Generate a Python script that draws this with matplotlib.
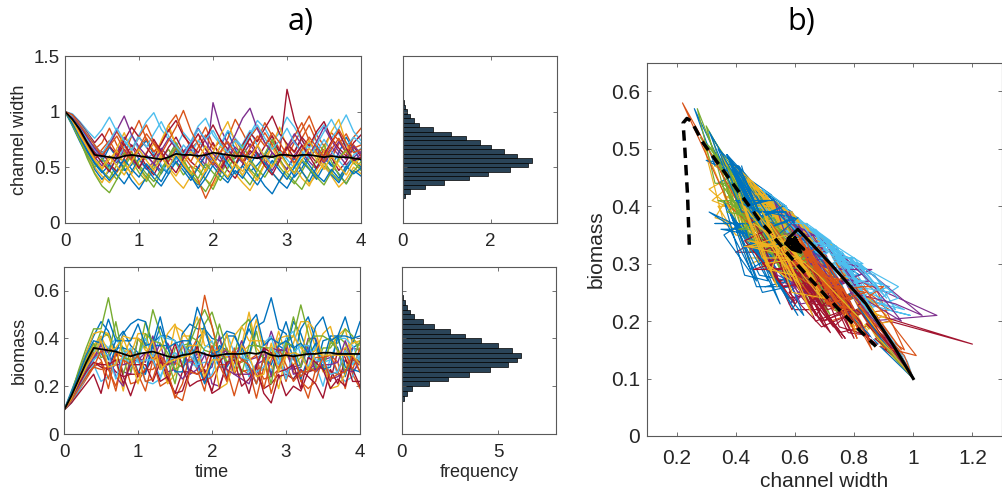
import numpy as np
import matplotlib.pyplot as plt

plt.rcParams['font.family'] = ['Liberation Sans', 'DejaVu Sans']

time = np.linspace(0, 4, 41)

# channel width of the individual runs (sampled every 0.1 time units)
width_runs = [
    [1.00, 0.93, 0.82, 0.71, 0.62, 0.55, 0.68, 0.59, 0.47, 0.52, 0.66, 0.74, 0.61, 0.50, 0.44, 0.58, 0.63, 0.71, 0.57, 0.49, 0.55,
     0.69, 0.82, 0.66, 0.54, 0.46, 0.52, 0.60, 0.73, 0.64, 0.53, 0.41, 0.49, 0.62, 0.70, 0.58, 0.51, 0.63, 0.77, 0.65, 0.56],
    [1.00, 0.96, 0.88, 0.77, 0.66, 0.72, 0.85, 0.70, 0.61, 0.78, 0.92, 0.75, 0.64, 0.71, 0.88, 0.97, 0.80, 0.67, 0.73, 0.86, 0.70,
     0.62, 0.76, 0.93, 0.81, 0.68, 0.74, 0.90, 0.78, 0.66, 0.59, 0.72, 0.84, 0.96, 0.79, 0.69, 0.81, 0.74, 0.63, 0.77, 0.85],
    [1.00, 0.89, 0.76, 0.63, 0.50, 0.42, 0.36, 0.45, 0.55, 0.43, 0.34, 0.40, 0.52, 0.61, 0.48, 0.38, 0.31, 0.42, 0.50, 0.39, 0.33,
     0.46, 0.57, 0.44, 0.36, 0.29, 0.41, 0.53, 0.45, 0.37, 0.48, 0.60, 0.47, 0.35, 0.43, 0.54, 0.42, 0.32, 0.39, 0.50, 0.44],
    [1.00, 0.92, 0.85, 0.74, 0.64, 0.58, 0.51, 0.63, 0.77, 0.69, 0.57, 0.48, 0.55, 0.67, 0.59, 0.53, 0.64, 0.72, 0.60, 0.52, 1.08,
     0.85, 0.71, 0.60, 0.54, 0.62, 0.69, 0.56, 0.47, 0.58, 0.66, 0.74, 0.63, 0.55, 0.48, 0.57, 0.68, 0.61, 0.52, 0.59, 0.64],
    [1.00, 0.90, 0.79, 0.66, 0.55, 0.47, 0.40, 0.52, 0.63, 0.56, 0.45, 0.37, 0.49, 0.58, 0.66, 0.54, 0.43, 0.51, 0.47, 0.39, 0.30,
     0.44, 0.55, 0.64, 0.57, 0.48, 0.41, 0.53, 0.61, 0.50, 0.42, 0.35, 0.46, 0.58, 0.67, 0.55, 0.45, 0.38, 0.50, 0.59, 0.48],
    [1.00, 0.98, 0.91, 0.83, 0.76, 0.84, 0.95, 0.82, 0.73, 0.66, 0.79, 0.91, 0.99, 0.84, 0.75, 0.68, 0.81, 0.73, 0.87, 0.94, 0.79,
     0.70, 0.83, 0.76, 0.68, 0.80, 0.92, 0.85, 0.73, 0.81, 0.95, 0.86, 0.74, 0.67, 0.79, 0.88, 0.76, 0.85, 0.97, 0.82, 0.74],
    [1.00, 0.94, 0.80, 0.68, 0.57, 0.64, 0.53, 0.46, 0.58, 0.70, 0.62, 0.51, 0.43, 0.56, 0.68, 0.77, 0.64, 0.55, 0.49, 0.61, 0.72,
     0.59, 0.47, 0.40, 0.52, 0.65, 0.58, 0.69, 0.78, 0.63, 1.20, 0.92, 0.75, 0.62, 0.54, 0.66, 0.59, 0.47, 0.55, 0.68, 0.60],
    [1.00, 0.87, 0.73, 0.60, 0.48, 0.39, 0.47, 0.58, 0.49, 0.38, 0.30, 0.41, 0.53, 0.44, 0.56, 0.65, 0.52, 0.41, 0.34, 0.45, 0.57,
     0.48, 0.39, 0.51, 0.62, 0.55, 0.43, 0.33, 0.26, 0.38, 0.49, 0.58, 0.46, 0.37, 0.50, 0.61, 0.52, 0.44, 0.35, 0.47, 0.42],
    [1.00, 0.95, 0.84, 0.73, 0.69, 0.60, 0.71, 0.82, 0.70, 0.58, 0.67, 0.76, 0.63, 0.72, 0.84, 0.71, 0.62, 0.55, 0.68, 0.79, 0.66,
     0.74, 0.61, 0.53, 0.65, 0.77, 0.86, 0.72, 0.63, 0.57, 0.70, 0.63, 0.76, 0.88, 0.73, 0.64, 0.58, 0.71, 0.80, 0.67, 0.70],
    [1.00, 0.91, 0.78, 0.62, 0.45, 0.36, 0.50, 0.67, 0.81, 0.64, 0.49, 0.39, 0.55, 0.74, 0.88, 0.69, 0.52, 0.42, 0.35, 0.48, 0.63,
     0.79, 0.91, 0.72, 0.57, 0.46, 0.38, 0.53, 0.70, 0.86, 0.68, 0.51, 0.40, 0.33, 0.47, 0.65, 0.82, 0.93, 0.71, 0.56, 0.50],
    [1.00, 0.93, 0.83, 0.70, 0.59, 0.51, 0.60, 0.54, 0.66, 0.57, 0.49, 0.61, 0.53, 0.47, 0.60, 0.71, 0.58, 0.66, 0.56, 0.63, 0.54,
     0.46, 0.59, 0.68, 0.61, 0.71, 0.60, 0.52, 0.63, 0.56, 0.48, 0.61, 0.69, 0.59, 0.66, 0.54, 0.62, 0.73, 0.63, 0.55, 0.62],
    [1.00, 0.88, 0.75, 0.58, 0.44, 0.33, 0.27, 0.39, 0.52, 0.64, 0.50, 0.41, 0.32, 0.45, 0.59, 0.72, 0.57, 0.44, 0.36, 0.28, 0.40,
     0.54, 0.67, 0.53, 0.42, 0.34, 0.47, 0.62, 0.75, 0.58, 0.45, 0.37, 0.30, 0.43, 0.57, 0.70, 0.55, 0.43, 0.35, 0.46, 0.55],
    [1.00, 0.94, 0.86, 0.75, 0.66, 0.58, 0.49, 0.56, 0.68, 0.79, 0.65, 0.57, 0.63, 0.52, 0.45, 0.57, 0.70, 0.62, 0.74, 0.66, 0.55,
     0.61, 0.50, 0.58, 0.71, 0.83, 0.69, 0.60, 0.53, 0.64, 0.57, 0.49, 0.60, 0.72, 0.63, 0.75, 0.64, 0.56, 0.48, 0.61, 0.67],
    [1.00, 0.97, 0.90, 0.81, 0.72, 0.80, 0.69, 0.61, 0.74, 0.86, 0.77, 0.68, 0.59, 0.71, 0.83, 0.92, 0.78, 0.70, 0.63, 0.76, 0.88,
     0.75, 0.66, 0.58, 0.70, 0.81, 0.73, 0.85, 0.96, 0.80, 0.71, 0.64, 0.77, 0.69, 0.82, 0.91, 0.76, 0.67, 0.60, 0.72, 0.79],
    [1.00, 0.90, 0.77, 0.64, 0.53, 0.45, 0.52, 0.43, 0.35, 0.46, 0.58, 0.49, 0.40, 0.33, 0.44, 0.55, 0.47, 0.38, 0.50, 0.61, 0.51,
     0.42, 0.36, 0.47, 0.40, 0.52, 0.63, 0.54, 0.45, 0.37, 0.31, 0.43, 0.55, 0.48, 0.39, 0.51, 0.43, 0.36, 0.48, 0.58, 0.50],
    [1.00, 0.92, 0.81, 0.69, 0.58, 0.66, 0.74, 0.62, 0.54, 0.65, 0.77, 0.88, 0.73, 0.62, 0.55, 0.67, 0.60, 0.51, 0.38, 0.22, 0.36,
     0.50, 0.63, 0.75, 0.64, 0.56, 0.69, 0.81, 0.70, 0.59, 0.67, 0.78, 0.90, 0.74, 0.63, 0.55, 0.66, 0.76, 0.64, 0.70, 0.61],
    [1.00, 0.91, 0.80, 0.67, 0.56, 0.48, 0.57, 0.65, 0.53, 0.44, 0.55, 0.63, 0.71, 0.59, 0.50, 0.42, 0.53, 0.64, 0.56, 0.46, 0.57,
     0.69, 0.60, 0.51, 0.43, 0.54, 0.47, 0.59, 0.68, 0.55, 0.45, 0.52, 0.64, 0.74, 0.61, 0.50, 0.44, 0.56, 0.65, 0.53, 0.58],
    [1.00, 0.95, 0.87, 0.77, 0.67, 0.59, 0.70, 0.83, 0.96, 0.79, 0.68, 0.60, 0.53, 0.65, 0.76, 0.67, 0.58, 0.71, 0.85, 0.73, 0.62,
     0.55, 0.66, 0.79, 0.94, 1.03, 0.84, 0.72, 0.63, 0.56, 0.68, 0.80, 0.70, 0.61, 0.73, 0.86, 0.74, 0.64, 0.57, 0.69, 0.62],
    [1.00, 0.88, 0.74, 0.61, 0.50, 0.58, 0.47, 0.39, 0.50, 0.61, 0.52, 0.44, 0.37, 0.48, 0.59, 0.68, 0.55, 0.46, 0.40, 0.53, 0.45,
     0.38, 0.49, 0.60, 0.70, 0.57, 0.48, 0.41, 0.52, 0.63, 0.53, 0.45, 0.57, 0.49, 0.41, 0.34, 0.46, 0.58, 0.66, 0.54, 0.47],
    [1.00, 0.96, 0.89, 0.80, 0.70, 0.62, 0.73, 0.85, 0.74, 0.65, 0.77, 0.68, 0.80, 0.91, 0.78, 0.69, 0.61, 0.72, 0.84, 0.75, 0.83,
     0.71, 0.63, 0.74, 0.67, 0.79, 0.88, 0.76, 0.66, 0.74, 0.85, 0.72, 0.64, 0.58, 0.70, 0.82, 0.93, 0.80, 0.69, 0.77, 0.71],
    [1.00, 0.93, 0.83, 0.72, 0.63, 0.54, 0.46, 0.59, 0.71, 0.60, 0.49, 0.62, 0.75, 0.64, 0.53, 0.45, 0.58, 0.69, 0.80, 0.66, 0.57,
     0.48, 0.60, 0.52, 0.64, 0.76, 0.62, 0.51, 0.43, 0.56, 0.68, 0.58, 0.70, 0.60, 0.49, 0.61, 0.73, 0.82, 0.67, 0.56, 0.59],
    [1.00, 0.89, 0.78, 0.65, 0.54, 0.46, 0.38, 0.47, 0.57, 0.48, 0.41, 0.53, 0.45, 0.37, 0.49, 0.60, 0.50, 0.42, 0.31, 0.40, 0.52,
     0.63, 0.53, 0.44, 0.51, 0.42, 0.34, 0.45, 0.56, 0.47, 0.39, 0.50, 0.61, 0.52, 0.43, 0.37, 0.48, 0.40, 0.51, 0.44, 0.49],
    [1.00, 0.97, 0.88, 0.79, 0.70, 0.61, 0.69, 0.78, 0.65, 0.56, 0.68, 0.80, 0.71, 0.62, 0.74, 0.86, 1.01, 0.83, 0.70, 0.60, 0.52,
     0.64, 0.73, 0.63, 0.55, 0.67, 0.78, 0.69, 0.81, 0.72, 0.61, 0.54, 0.66, 0.77, 0.68, 0.59, 0.71, 0.84, 0.72, 0.63, 0.66],
    [1.00, 0.92, 0.79, 0.68, 0.57, 0.49, 0.60, 0.51, 0.43, 0.55, 0.66, 0.56, 0.47, 0.59, 0.50, 0.62, 0.53, 0.44, 0.57, 0.69, 0.58,
     0.49, 0.41, 0.54, 0.46, 0.58, 0.70, 0.59, 0.50, 0.62, 0.52, 0.44, 0.56, 0.67, 0.57, 0.48, 0.60, 0.51, 0.43, 0.55, 0.52],
]

# biomass of the same runs
biomass_runs = [
    [0.10, 0.15, 0.22, 0.29, 0.36, 0.40, 0.31, 0.39, 0.43, 0.37, 0.34, 0.26, 0.38, 0.41, 0.41, 0.39, 0.34, 0.25, 0.40, 0.43, 0.35,
     0.28, 0.28, 0.33, 0.36, 0.44, 0.37, 0.36, 0.25, 0.37, 0.35, 0.47, 0.42, 0.33, 0.27, 0.39, 0.40, 0.36, 0.24, 0.36, 0.38],
    [0.10, 0.14, 0.18, 0.23, 0.28, 0.30, 0.19, 0.34, 0.32, 0.21, 0.22, 0.27, 0.27, 0.31, 0.25, 0.15, 0.21, 0.33, 0.27, 0.18, 0.34,
     0.31, 0.27, 0.16, 0.27, 0.25, 0.29, 0.23, 0.24, 0.27, 0.39, 0.26, 0.23, 0.15, 0.27, 0.29, 0.26, 0.25, 0.36, 0.25, 0.19],
    [0.10, 0.16, 0.23, 0.29, 0.35, 0.40, 0.42, 0.30, 0.32, 0.40, 0.40, 0.35, 0.34, 0.27, 0.30, 0.45, 0.43, 0.38, 0.29, 0.43, 0.38,
     0.36, 0.32, 0.35, 0.37, 0.51, 0.36, 0.32, 0.32, 0.43, 0.33, 0.29, 0.32, 0.46, 0.36, 0.26, 0.39, 0.41, 0.44, 0.31, 0.31],
    [0.10, 0.15, 0.21, 0.27, 0.33, 0.34, 0.36, 0.34, 0.26, 0.25, 0.40, 0.38, 0.37, 0.27, 0.38, 0.32, 0.33, 0.30, 0.32, 0.34, 0.21,
     0.20, 0.29, 0.31, 0.39, 0.31, 0.32, 0.33, 0.43, 0.34, 0.26, 0.28, 0.29, 0.40, 0.40, 0.31, 0.32, 0.34, 0.33, 0.36, 0.35],
    [0.10, 0.16, 0.23, 0.29, 0.35, 0.43, 0.41, 0.35, 0.25, 0.35, 0.32, 0.47, 0.38, 0.29, 0.22, 0.36, 0.37, 0.35, 0.34, 0.46, 0.51,
     0.41, 0.30, 0.31, 0.30, 0.32, 0.43, 0.30, 0.34, 0.34, 0.36, 0.49, 0.38, 0.26, 0.28, 0.36, 0.36, 0.41, 0.38, 0.29, 0.32],
    [0.10, 0.13, 0.18, 0.24, 0.29, 0.22, 0.24, 0.30, 0.31, 0.31, 0.31, 0.22, 0.21, 0.23, 0.32, 0.34, 0.30, 0.30, 0.28, 0.22, 0.25,
     0.34, 0.24, 0.32, 0.34, 0.24, 0.26, 0.27, 0.27, 0.30, 0.26, 0.23, 0.28, 0.36, 0.29, 0.20, 0.32, 0.25, 0.22, 0.24, 0.33],
    [0.10, 0.14, 0.20, 0.26, 0.30, 0.28, 0.27, 0.35, 0.24, 0.25, 0.25, 0.34, 0.33, 0.32, 0.23, 0.17, 0.26, 0.26, 0.37, 0.25, 0.18,
     0.30, 0.34, 0.32, 0.32, 0.28, 0.25, 0.19, 0.21, 0.25, 0.16, 0.20, 0.18, 0.26, 0.27, 0.28, 0.22, 0.35, 0.32, 0.22, 0.22],
    [0.10, 0.18, 0.26, 0.34, 0.41, 0.47, 0.43, 0.34, 0.42, 0.46, 0.48, 0.47, 0.36, 0.45, 0.36, 0.29, 0.42, 0.46, 0.44, 0.44, 0.40,
     0.39, 0.43, 0.42, 0.34, 0.33, 0.45, 0.47, 0.57, 0.44, 0.42, 0.31, 0.44, 0.49, 0.39, 0.30, 0.41, 0.41, 0.49, 0.38, 0.47],
    [0.10, 0.15, 0.20, 0.25, 0.28, 0.27, 0.28, 0.18, 0.32, 0.31, 0.24, 0.27, 0.31, 0.20, 0.22, 0.30, 0.28, 0.31, 0.31, 0.22, 0.24,
     0.29, 0.29, 0.36, 0.26, 0.27, 0.15, 0.28, 0.33, 0.32, 0.22, 0.34, 0.22, 0.19, 0.22, 0.32, 0.33, 0.30, 0.19, 0.32, 0.26],
    [0.10, 0.16, 0.25, 0.34, 0.42, 0.43, 0.42, 0.31, 0.18, 0.33, 0.42, 0.42, 0.32, 0.30, 0.21, 0.25, 0.41, 0.41, 0.49, 0.37, 0.36,
     0.19, 0.21, 0.30, 0.34, 0.37, 0.48, 0.34, 0.29, 0.19, 0.33, 0.38, 0.47, 0.47, 0.43, 0.31, 0.19, 0.20, 0.25, 0.40, 0.37],
    [0.10, 0.15, 0.21, 0.26, 0.31, 0.38, 0.27, 0.29, 0.29, 0.30, 0.31, 0.34, 0.31, 0.38, 0.26, 0.27, 0.23, 0.27, 0.34, 0.26, 0.28,
     0.41, 0.27, 0.25, 0.25, 0.25, 0.28, 0.36, 0.24, 0.35, 0.36, 0.25, 0.26, 0.26, 0.30, 0.31, 0.23, 0.24, 0.27, 0.26, 0.30],
    [0.10, 0.17, 0.27, 0.36, 0.44, 0.44, 0.57, 0.41, 0.36, 0.26, 0.40, 0.36, 0.52, 0.42, 0.31, 0.21, 0.37, 0.38, 0.46, 0.52, 0.45,
     0.34, 0.30, 0.33, 0.45, 0.48, 0.34, 0.32, 0.21, 0.38, 0.38, 0.41, 0.54, 0.42, 0.28, 0.28, 0.38, 0.38, 0.44, 0.41, 0.34],
    [0.10, 0.15, 0.21, 0.28, 0.34, 0.39, 0.36, 0.40, 0.35, 0.28, 0.31, 0.40, 0.32, 0.41, 0.40, 0.39, 0.32, 0.37, 0.28, 0.36, 0.39,
     0.31, 0.42, 0.34, 0.34, 0.26, 0.29, 0.38, 0.41, 0.29, 0.40, 0.43, 0.33, 0.28, 0.37, 0.30, 0.31, 0.40, 0.40, 0.37, 0.30],
    [0.10, 0.13, 0.17, 0.21, 0.25, 0.17, 0.30, 0.26, 0.24, 0.16, 0.25, 0.26, 0.32, 0.22, 0.24, 0.17, 0.18, 0.27, 0.25, 0.27, 0.17,
     0.19, 0.30, 0.31, 0.20, 0.23, 0.28, 0.17, 0.13, 0.24, 0.25, 0.23, 0.27, 0.24, 0.21, 0.15, 0.27, 0.21, 0.31, 0.27, 0.20],
    [0.10, 0.15, 0.22, 0.28, 0.31, 0.34, 0.28, 0.36, 0.36, 0.35, 0.26, 0.25, 0.37, 0.37, 0.37, 0.26, 0.26, 0.39, 0.30, 0.21, 0.30,
     0.37, 0.35, 0.27, 0.37, 0.28, 0.21, 0.32, 0.29, 0.37, 0.39, 0.36, 0.23, 0.32, 0.38, 0.27, 0.28, 0.41, 0.28, 0.27, 0.26],
    [0.10, 0.15, 0.22, 0.28, 0.34, 0.31, 0.23, 0.34, 0.32, 0.35, 0.25, 0.18, 0.31, 0.33, 0.29, 0.32, 0.37, 0.34, 0.40, 0.58, 0.45,
     0.32, 0.36, 0.25, 0.31, 0.31, 0.33, 0.19, 0.31, 0.36, 0.29, 0.22, 0.26, 0.26, 0.32, 0.32, 0.33, 0.26, 0.34, 0.27, 0.36],
    [0.10, 0.16, 0.24, 0.31, 0.37, 0.41, 0.34, 0.36, 0.41, 0.40, 0.40, 0.37, 0.31, 0.35, 0.42, 0.46, 0.36, 0.37, 0.37, 0.44, 0.35,
     0.35, 0.32, 0.41, 0.45, 0.39, 0.39, 0.39, 0.32, 0.40, 0.41, 0.41, 0.36, 0.33, 0.35, 0.42, 0.45, 0.34, 0.36, 0.38, 0.39],
    [0.10, 0.14, 0.20, 0.26, 0.32, 0.37, 0.34, 0.24, 0.20, 0.31, 0.32, 0.30, 0.41, 0.30, 0.29, 0.30, 0.39, 0.25, 0.27, 0.33, 0.33,
     0.33, 0.35, 0.25, 0.23, 0.21, 0.29, 0.31, 0.36, 0.35, 0.35, 0.27, 0.28, 0.37, 0.26, 0.29, 0.29, 0.30, 0.39, 0.31, 0.29],
    [0.10, 0.17, 0.25, 0.32, 0.38, 0.32, 0.33, 0.47, 0.32, 0.31, 0.32, 0.42, 0.39, 0.38, 0.34, 0.27, 0.29, 0.41, 0.39, 0.35, 0.34,
     0.46, 0.35, 0.33, 0.25, 0.37, 0.37, 0.36, 0.36, 0.26, 0.38, 0.37, 0.28, 0.39, 0.41, 0.41, 0.39, 0.35, 0.26, 0.31, 0.39],
    [0.10, 0.14, 0.19, 0.25, 0.31, 0.34, 0.33, 0.23, 0.33, 0.36, 0.30, 0.31, 0.31, 0.24, 0.31, 0.32, 0.38, 0.33, 0.29, 0.30, 0.30,
     0.34, 0.33, 0.33, 0.32, 0.31, 0.26, 0.28, 0.36, 0.33, 0.23, 0.34, 0.37, 0.37, 0.31, 0.30, 0.25, 0.26, 0.35, 0.29, 0.34],
    [0.10, 0.15, 0.21, 0.26, 0.30, 0.29, 0.29, 0.31, 0.21, 0.29, 0.29, 0.29, 0.22, 0.30, 0.29, 0.38, 0.28, 0.20, 0.22, 0.23, 0.34,
     0.32, 0.23, 0.34, 0.26, 0.17, 0.29, 0.36, 0.34, 0.26, 0.27, 0.29, 0.19, 0.32, 0.30, 0.27, 0.19, 0.23, 0.20, 0.32, 0.30],
    [0.10, 0.17, 0.25, 0.33, 0.39, 0.38, 0.48, 0.39, 0.39, 0.39, 0.46, 0.37, 0.38, 0.49, 0.36, 0.38, 0.39, 0.39, 0.53, 0.45, 0.33,
     0.35, 0.41, 0.41, 0.35, 0.46, 0.50, 0.37, 0.40, 0.38, 0.47, 0.36, 0.38, 0.34, 0.45, 0.49, 0.39, 0.41, 0.41, 0.40, 0.41],
    [0.10, 0.14, 0.19, 0.24, 0.28, 0.35, 0.27, 0.20, 0.31, 0.29, 0.33, 0.22, 0.23, 0.33, 0.26, 0.16, 0.14, 0.26, 0.25, 0.28, 0.37,
     0.29, 0.22, 0.35, 0.31, 0.29, 0.21, 0.32, 0.17, 0.28, 0.34, 0.32, 0.24, 0.28, 0.26, 0.32, 0.23, 0.25, 0.26, 0.33, 0.26],
    [0.10, 0.15, 0.22, 0.28, 0.33, 0.39, 0.28, 0.29, 0.40, 0.32, 0.21, 0.33, 0.39, 0.27, 0.30, 0.31, 0.32, 0.33, 0.35, 0.24, 0.31,
     0.31, 0.42, 0.26, 0.37, 0.33, 0.24, 0.25, 0.38, 0.26, 0.33, 0.34, 0.33, 0.27, 0.34, 0.33, 0.33, 0.33, 0.33, 0.33, 0.29],
]

# ensemble mean (black line)
mean_width = [1.00, 0.93, 0.84, 0.72, 0.61, 0.60, 0.59, 0.58, 0.60, 0.61, 0.60, 0.59, 0.58, 0.57, 0.59, 0.62, 0.61, 0.61, 0.60, 0.61,
              0.63, 0.62, 0.61, 0.60, 0.60, 0.59, 0.58, 0.60, 0.59, 0.61, 0.61, 0.60, 0.61, 0.61, 0.60, 0.59, 0.60, 0.59, 0.59, 0.58, 0.57]
mean_biomass = [0.10, 0.16, 0.23, 0.30, 0.36, 0.355, 0.35, 0.345, 0.335, 0.325, 0.335, 0.34, 0.345, 0.335, 0.325, 0.32, 0.33, 0.335,
                0.345, 0.335, 0.325, 0.33, 0.335, 0.335, 0.335, 0.34, 0.335, 0.345, 0.33, 0.325, 0.33, 0.325, 0.33, 0.335, 0.335,
                0.34, 0.34, 0.335, 0.335, 0.335, 0.335]

# histograms (normalised frequency)
width_bins = np.arange(0.16, 1.241, 0.04)
width_freq = [0.01, 0.02, 0.05, 0.18, 0.50, 0.95, 1.50, 1.95, 2.45, 2.85, 2.95, 2.60, 2.30, 2.00,
              1.75, 1.45, 1.10, 0.70, 0.38, 0.25, 0.18, 0.10, 0.06, 0.04, 0.02, 0.015, 0.01, 0.005]
biomass_bins = np.arange(0.09, 0.611, 0.02)
biomass_freq = [0.01, 0.02, 0.04, 0.10, 0.25, 0.55, 1.40, 2.40, 3.50, 4.60, 5.50, 6.00, 6.20, 5.70,
                5.00, 4.10, 3.30, 2.50, 1.70, 1.10, 0.65, 0.45, 0.28, 0.15, 0.08, 0.03, 0.01]

# reference curves in the phase plane
dash_black_w = [0.243, 0.237, 0.228, 0.222, 0.235, 0.25, 0.29, 0.357, 0.48, 0.593, 0.706, 0.807, 0.874]
dash_black_b = [0.333, 0.42, 0.50, 0.545, 0.553, 0.548, 0.51, 0.463, 0.376, 0.307, 0.243, 0.19, 0.156]
dash_white_w = [0.711, 0.76, 0.82, 0.885]
dash_white_b = [0.318, 0.27, 0.21, 0.156]

colors = ['#0072BD', '#D95319', '#EDB120', '#7E2F8E', '#77AC30', '#4DBEEE', '#A2142F']
axcol = '#595959'
txtcol = '#262626'


def style(ax, labelsize=13.5, xpad=7.5, ypad=3.5):
    for s in ax.spines.values():
        s.set_color(axcol)
        s.set_linewidth(0.8)
    ax.tick_params(direction='in', top=True, right=True, length=3, width=0.6,
                   color=axcol, labelcolor=txtcol, labelsize=labelsize)
    ax.tick_params(axis='x', pad=xpad)
    ax.tick_params(axis='y', pad=ypad)


fig = plt.figure(figsize=(10.02, 4.98), dpi=100)

ax1 = fig.add_axes([0.0649, 0.5528, 0.2954, 0.3347])
ax2 = fig.add_axes([0.0639, 0.1285, 0.2954, 0.336])
ax3 = fig.add_axes([0.4017, 0.5528, 0.1537, 0.3347])
ax4 = fig.add_axes([0.4009, 0.1285, 0.154, 0.336])
ax5 = fig.add_axes([0.6457, 0.1245, 0.3543, 0.7496])

for i in range(len(width_runs)):
    c = colors[i % len(colors)]
    ax1.plot(time, width_runs[i], color=c, lw=1.0)
    ax2.plot(time, biomass_runs[i], color=c, lw=1.0)
    ax5.plot(width_runs[i], biomass_runs[i], color=c, lw=0.85)
ax1.plot(time, mean_width, color='black', lw=1.3)
ax2.plot(time, mean_biomass, color='black', lw=1.3)

ax1.set_xlim(0, 4)
ax1.set_ylim(0, 1.5)
ax1.set_xticks([0, 1, 2, 3, 4])
ax1.set_yticks([0, 0.5, 1, 1.5])
ax1.set_yticklabels(['0', '0.5', '1', '1.5'])
ax1.set_ylabel('channel width', fontsize=13, color=txtcol)
style(ax1)

ax2.set_xlim(0, 4)
ax2.set_ylim(0, 0.7)
ax2.set_xticks([0, 1, 2, 3, 4])
ax2.set_yticks([0, 0.2, 0.4, 0.6])
ax2.set_yticklabels(['0', '0.2', '0.4', '0.6'])
ax2.set_xlabel('time', fontsize=13, color=txtcol, labelpad=2)
ax2.set_ylabel('biomass', fontsize=13, color=txtcol)
style(ax2)

ax3.barh(width_bins, width_freq, height=0.04, color='#2a4458', edgecolor='black', linewidth=0.5)
ax3.set_xlim(0, 3.5)
ax3.set_ylim(0, 1.5)
ax3.set_xticks([0, 2])
ax3.set_yticks([0, 0.5, 1, 1.5])
ax3.set_yticklabels([])
style(ax3)

ax4.barh(biomass_bins, biomass_freq, height=0.02, color='#2a4458', edgecolor='black', linewidth=0.5)
ax4.set_xlim(0, 8)
ax4.set_ylim(0, 0.7)
ax4.set_xticks([0, 5])
ax4.set_yticks([0, 0.2, 0.4, 0.6])
ax4.set_yticklabels([])
ax4.set_xlabel('frequency', fontsize=13, color=txtcol, labelpad=2)
style(ax4)

ax5.plot(dash_white_w, dash_white_b, color='white', lw=2.5, ls=(0, (3, 2)))
ax5.plot(dash_black_w, dash_black_b, color='black', lw=2.5, ls=(0, (3, 2)))
ax5.plot(mean_width, mean_biomass, color='black', lw=2.2)
ax5.set_xlim(0.1, 1.3)
ax5.set_ylim(0, 0.65)
ax5.set_xticks([0.2, 0.4, 0.6, 0.8, 1.0, 1.2])
ax5.set_xticklabels(['0.2', '0.4', '0.6', '0.8', '1', '1.2'])
ax5.set_yticks([0, 0.1, 0.2, 0.3, 0.4, 0.5, 0.6])
ax5.set_yticklabels(['0', '0.1', '0.2', '0.3', '0.4', '0.5', '0.6'])
ax5.set_xlabel('channel width', fontsize=15, color=txtcol, labelpad=3)
ax5.set_ylabel('biomass', fontsize=15, color=txtcol)
style(ax5, labelsize=15, xpad=9.5, ypad=5)

fig.text(0.300, 0.955, 'a)', fontsize=22, family=['Open Sans', 'DejaVu Sans'], ha='center', va='center', color='black')
fig.text(0.800, 0.955, 'b)', fontsize=22, family=['Open Sans', 'DejaVu Sans'], ha='center', va='center', color='black')

fig.savefig('out.png', dpi=100)
